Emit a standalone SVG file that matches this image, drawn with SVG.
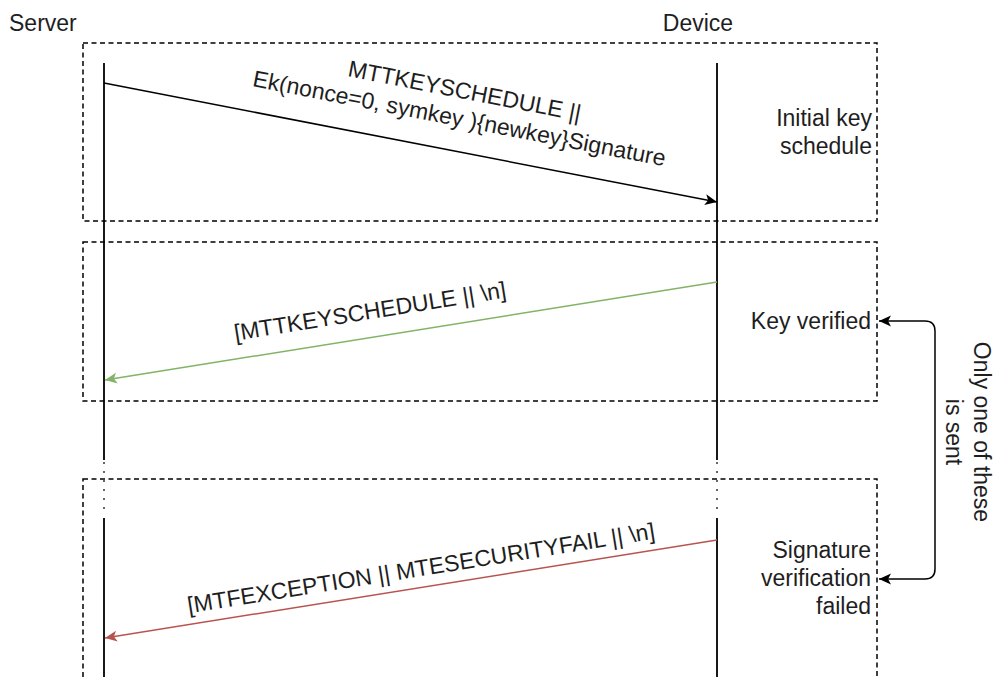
<svg xmlns="http://www.w3.org/2000/svg" width="996" height="677" viewBox="0 0 996 677">
<style>
text{font-family:"Liberation Sans",Arial,sans-serif;font-size:23px;fill:#1e1e1e}
.box{fill:none;stroke:#000;stroke-width:1.5;stroke-dasharray:5 3.5}
.life{stroke:#000;stroke-width:1.8;fill:none}
.gap{stroke:#000;stroke-width:1.2;stroke-dasharray:2 7;fill:none}
.msg{fill:none;stroke-width:1.5}
</style>
<defs>
<marker id="ab" markerUnits="userSpaceOnUse" markerWidth="16" markerHeight="14" refX="13" refY="6" orient="auto-start-reverse" viewBox="0 0 16 12">
<path d="M13 6 L1 0.5 L4 6 L1 11.5 Z" fill="#000"/>
</marker>
<marker id="ag" markerUnits="userSpaceOnUse" markerWidth="16" markerHeight="14" refX="13" refY="6" orient="auto" viewBox="0 0 16 12">
<path d="M13 6 L1 0.5 L4 6 L1 11.5 Z" fill="#82b366"/>
</marker>
<marker id="ar" markerUnits="userSpaceOnUse" markerWidth="16" markerHeight="14" refX="13" refY="6" orient="auto" viewBox="0 0 16 12">
<path d="M13 6 L1 0.5 L4 6 L1 11.5 Z" fill="#b85450"/>
</marker>
</defs>
<rect width="996" height="677" fill="#fff"/>

<g id="frames">
<g id="frame-initial"><rect class="box" x="83" y="43" width="794" height="178"/><text text-anchor="end" x="872" y="126">Initial key</text><text text-anchor="end" x="872" y="154">schedule</text></g>
<g id="frame-verified"><rect class="box" x="83" y="242" width="794" height="159"/><text text-anchor="end" x="871" y="329">Key verified</text></g>
<g id="frame-failed"><rect class="box" x="83" y="479" width="794" height="240"/><text text-anchor="end" x="871" y="558">Signature</text><text text-anchor="end" x="871" y="586">verification</text><text text-anchor="end" x="871" y="614">failed</text></g>
</g>

<g id="server">
<text x="9" y="31">Server</text>
<path class="life" d="M104 63 V460 M104 518 V677"/>
<path class="gap" d="M104 462 V516"/>
</g>
<g id="device">
<text text-anchor="middle" x="698" y="31">Device</text>
<path class="life" d="M717 63 V460 M717 518 V677"/>
<path class="gap" d="M717 462 V516"/>
</g>

<g id="note">
<g transform="translate(968,432) rotate(90)"><text text-anchor="middle" x="0" y="-6">Only one of these</text><text text-anchor="middle" x="0" y="22">is sent</text></g>
</g>

<g id="connectors">
<line class="msg" stroke="#000" x1="104" y1="83" x2="717" y2="202" marker-end="url(#ab)"/>
<line class="msg" stroke="#82b366" x1="717" y1="282" x2="105" y2="380" marker-end="url(#ag)"/>
<line class="msg" stroke="#b85450" x1="717" y1="540" x2="105" y2="638" marker-end="url(#ar)"/>
<path class="msg" stroke="#000" d="M879 321 H925 Q935 321 935 331 V569 Q935 579 925 579 H879" marker-start="url(#ab)" marker-end="url(#ab)"/>
<g transform="translate(462,104.5) rotate(11)"><text text-anchor="middle" x="0" y="-6">MTTKEYSCHEDULE ||</text><text text-anchor="middle" x="0" y="22">Ek(nonce=0, symkey ){newkey}Signature</text></g>
<g transform="translate(370,311) rotate(-9.1)"><text text-anchor="middle" x="0" y="8">[MTTKEYSCHEDULE || \n]</text></g>
<g transform="translate(421,568) rotate(-9.1)"><text text-anchor="middle" x="0" y="8">[MTFEXCEPTION || MTESECURITYFAIL || \n]</text></g>
</g>
</svg>
